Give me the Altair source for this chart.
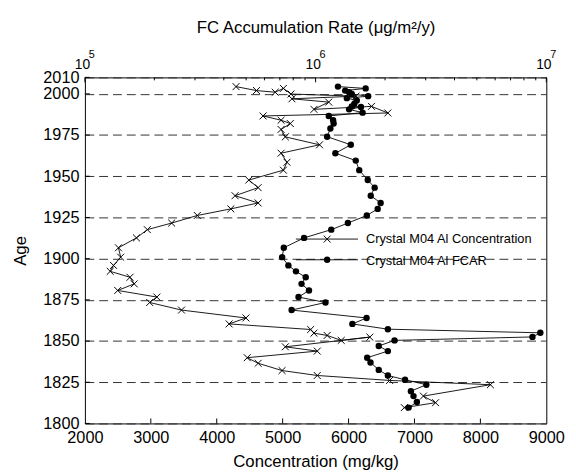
import altair as alt
import pandas as pd

# ---------------- data ----------------
conc_age = [2004.4, 2002.0, 2001.0, 2003.3, 1999.9, 1998.6, 1997.0, 1995.0, 1990.6, 1992.4,
            1988.4, 1986.6, 1984.0, 1982.0, 1978.4, 1973.9, 1969.1, 1964.0, 1958.5, 1953.7,
            1947.7, 1943.1, 1938.2, 1933.8, 1930.2, 1926.2, 1921.6, 1917.6, 1912.6, 1906.6,
            1900.9, 1895.9, 1892.3, 1888.7, 1884.7, 1880.7, 1876.7, 1873.4, 1868.8, 1864.0,
            1860.4, 1857.0, 1854.8, 1853.4, 1850.4, 1852.4, 1846.5, 1843.9, 1839.9, 1836.5,
            1832.1, 1829.1, 1826.1, 1823.5, 1816.6, 1812.6, 1809.6]
conc_val = [4293, 4603, 4887, 5011, 5126, 6113, 5141, 5699, 5475, 6348,
            6596, 4703, 4976, 5116, 4976, 5041, 5560, 4976, 5066, 5011,
            4487, 4628, 4278, 4628, 4214, 3705, 3316, 2947, 2782, 2509,
            2543, 2434, 2384, 2684, 2748, 2498, 3092, 2983, 3466, 4443,
            4188, 5425, 5475, 5675, 5889, 6323, 5041, 5525, 4463, 4628,
            4991, 5525, 6622, 8152, 7135, 7320, 6846]

fcar_age = [2004.4, 2003.3, 2002.0, 2001.0, 1999.9, 1998.6, 1997.4, 1996.0, 1994.0, 1992.4,
            1992.0, 1990.6, 1988.6, 1986.6, 1984.0, 1982.0, 1979.0, 1974.0, 1969.1, 1964.0,
            1959.5, 1953.7, 1947.7, 1943.1, 1938.2, 1933.8, 1930.2, 1926.2, 1921.6, 1917.6,
            1912.6, 1906.6, 1900.9, 1895.9, 1892.3, 1888.7, 1884.7, 1880.7, 1876.7, 1873.4,
            1868.8, 1864.0, 1860.4, 1857.2, 1855.0, 1852.5, 1850.4, 1847.0, 1843.9, 1839.9,
            1837.0, 1832.5, 1829.1, 1826.5, 1823.5, 1819.6, 1816.6, 1813.0, 1809.6]
fcar_val = [1.250e6, 1.648e6, 1.343e6, 1.397e6, 1.435e6, 1.690e6, 1.366e6, 1.508e6, 1.472e6, 1.435e6,
            1.572e6, 1.397e6, 1.598e6, 1.140e6, 1.191e6, 1.197e6, 1.159e6, 1.122e6, 1.421e6, 1.218e6,
            1.493e6, 1.546e6, 1.683e6, 1.803e6, 1.734e6, 1.914e6, 1.858e6, 1.667e6, 1.380e6, 1.169e6,
            8.91e5, 7.28e5, 7.16e5, 7.62e5, 8.22e5, 9.06e5, 8.69e5, 9.36e5, 8.43e5, 1.104e6,
            7.87e5, 1.663e6, 1.443e6, 2.057e6, 9.42e6, 8.71e6, 2.198e6, 1.878e6, 2.057e6, 1.673e6,
            1.730e6, 1.878e6, 2.057e6, 2.442e6, 3.020e6, 2.589e6, 2.657e6, 2.748e6, 2.530e6]

age_ticks = [1800, 1825, 1850, 1875, 1900, 1925, 1950, 1975, 2000, 2010]
conc_ticks = [2000, 3000, 4000, 5000, 6000, 7000, 8000, 9000]
fcar_major = [1e5, 1e6, 1e7]
fcar_major_exp = ["5", "6", "7"]
fcar_minor = [2e5, 3e5, 4e5, 5e5, 6e5, 7e5, 8e5, 9e5,
              2e6, 3e6, 4e6, 5e6, 6e6, 7e6, 8e6, 9e6]
legend_labels = ["Crystal M04  Al Concentration", "Crystal M04  Al FCAR"]

# ---------------- chart ----------------
W, H = 468, 351
FONT = "Liberation Sans"

conc_df = pd.DataFrame({"age": conc_age, "conc": conc_val, "i": range(len(conc_age))})
fcar_df = pd.DataFrame({"age": fcar_age, "fcar": fcar_val, "i": range(len(fcar_age))})
age_tick_df = pd.DataFrame({"age": age_ticks})
conc_tick_df = pd.DataFrame({"conc": conc_ticks[1:-1]})
fcar_major_df = pd.DataFrame({"fcar": fcar_major, "exp": fcar_major_exp})
fcar_minor_df = pd.DataFrame({"fcar": fcar_minor})

y_enc = alt.Y(
    "age:Q",
    scale=alt.Scale(domain=[1800, 2010], nice=False, zero=False),
    axis=alt.Axis(values=age_ticks, format="d", title="Age", grid=True,
                  gridDash=[9, 5], gridColor="#333333", gridWidth=1,
                  domain=False, ticks=False, labelOverlap=False, labelFlush=False,
                  labelPadding=6, labelFontSize=16.5, labelFont=FONT, labelColor="black",
                  titleFontSize=17, titleFont=FONT, titleColor="black",
                  titleFontWeight="normal", titleX=-60, titleY=H / 2,
                  titleBaseline="alphabetic", titleAngle=270),
)

conc_x = alt.X(
    "conc:Q",
    scale=alt.Scale(domain=[2000, 9000], nice=False, zero=False),
    axis=alt.Axis(orient="bottom", values=conc_ticks, format="d",
                  title="Concentration (mg/kg)", grid=False, domain=False, ticks=False,
                  labelFlush=False, labelOverlap=False, labelPadding=6,
                  labelFontSize=16.5, labelFont=FONT, labelColor="black",
                  titleFontSize=17, titleFont=FONT, titleColor="black",
                  titleFontWeight="normal", titleX=W / 2, titleY=44,
                  titleBaseline="alphabetic"),
)

fcar_x = alt.X(
    "fcar:Q",
    scale=alt.Scale(type="log", domain=[1e5, 1e7], nice=False),
    axis=alt.Axis(orient="top", values=fcar_major, labelExpr="'10'",
                  title="FC Accumulation Rate (\u03bcg/m\u00b2/y)", grid=False,
                  domain=False, ticks=False, labelFlush=False, labelOverlap=False,
                  labelPadding=6, labelOffset=-3,
                  labelFontSize=14, labelFont=FONT, labelColor="black",
                  titleFontSize=17, titleFont=FONT, titleColor="black",
                  titleFontWeight="normal", titleX=W / 2, titleY=-46,
                  titleBaseline="alphabetic"),
)

xmark = "M-1,-1L1,1M-1,1L1,-1"

conc_line = alt.Chart(conc_df).mark_line(color="black", strokeWidth=0.9).encode(
    x=conc_x, y=y_enc, order=alt.Order("i:Q"))
conc_pts = alt.Chart(conc_df).mark_point(shape=xmark, size=49, filled=False,
                                         color="black", strokeWidth=1, opacity=1).encode(
    x=conc_x, y=y_enc)
conc_ticks_layer = alt.Chart(conc_tick_df).mark_rule(color="black", strokeWidth=1).encode(
    x=conc_x, y=alt.value(H), y2=alt.value(H - 5))
age_ticks_layer = alt.Chart(age_tick_df).mark_rule(color="black", strokeWidth=1).encode(
    y=y_enc, x=alt.value(0), x2=alt.value(5))

# legend (no box, as in the reference)
leg1 = pd.DataFrame({"t": [legend_labels[0]]})
leg2 = pd.DataFrame({"t": [legend_labels[1]]})
leg_text1 = alt.Chart(leg1).mark_text(align="left", baseline="alphabetic", fontSize=13,
                                      font=FONT, color="black").encode(
    text="t:N", x=alt.value(285), y=alt.value(168))
leg_text2 = alt.Chart(leg2).mark_text(align="left", baseline="alphabetic", fontSize=13,
                                      font=FONT, color="black").encode(
    text="t:N", x=alt.value(285), y=alt.value(190.5))
leg_line1 = alt.Chart(leg1).mark_rule(color="black", strokeWidth=0.9).encode(
    x=alt.value(214), x2=alt.value(277), y=alt.value(164))
leg_line2 = alt.Chart(leg2).mark_rule(color="black", strokeWidth=0.9).encode(
    x=alt.value(214), x2=alt.value(277), y=alt.value(185))
leg_pt1 = alt.Chart(leg1).mark_point(shape=xmark, size=49, filled=False, color="black",
                                     strokeWidth=1, opacity=1).encode(
    x=alt.value(245.7), y=alt.value(164))
leg_pt2 = alt.Chart(leg2).mark_circle(size=42, color="black", opacity=1).encode(
    x=alt.value(245.7), y=alt.value(185))

conc_group = alt.layer(conc_line, conc_pts, conc_ticks_layer, age_ticks_layer,
                       leg_line1, leg_line2, leg_pt1, leg_pt2, leg_text1, leg_text2)

fcar_line = alt.Chart(fcar_df).mark_line(color="black", strokeWidth=0.9).encode(
    x=fcar_x, y=y_enc, order=alt.Order("i:Q"))
fcar_pts = alt.Chart(fcar_df).mark_circle(size=42, color="black", opacity=1).encode(
    x=fcar_x, y=y_enc)
fcar_major_ticks = alt.Chart(fcar_major_df).mark_rule(color="black", strokeWidth=1).encode(
    x=fcar_x, y=alt.value(0), y2=alt.value(5))
fcar_minor_ticks = alt.Chart(fcar_minor_df).mark_rule(color="black", strokeWidth=1).encode(
    x=fcar_x, y=alt.value(0), y2=alt.value(3))
fcar_exp = alt.Chart(fcar_major_df).mark_text(align="left", baseline="alphabetic", dx=4,
                                              fontSize=11, font=FONT, color="black").encode(
    x=fcar_x, y=alt.value(-20), text="exp:N")

fcar_group = alt.layer(fcar_line, fcar_pts, fcar_major_ticks, fcar_minor_ticks, fcar_exp)

chart = alt.layer(conc_group, fcar_group).resolve_scale(x="independent").properties(
    width=W, height=H,
    padding={"left": 78, "top": 67, "right": 22, "bottom": 55},
    autosize=alt.AutoSizeParams(type="none"),
    background="white",
).configure_view(stroke="black", strokeWidth=1)

chart.save("out.html", embed_options={"renderer": "svg", "actions": False})
